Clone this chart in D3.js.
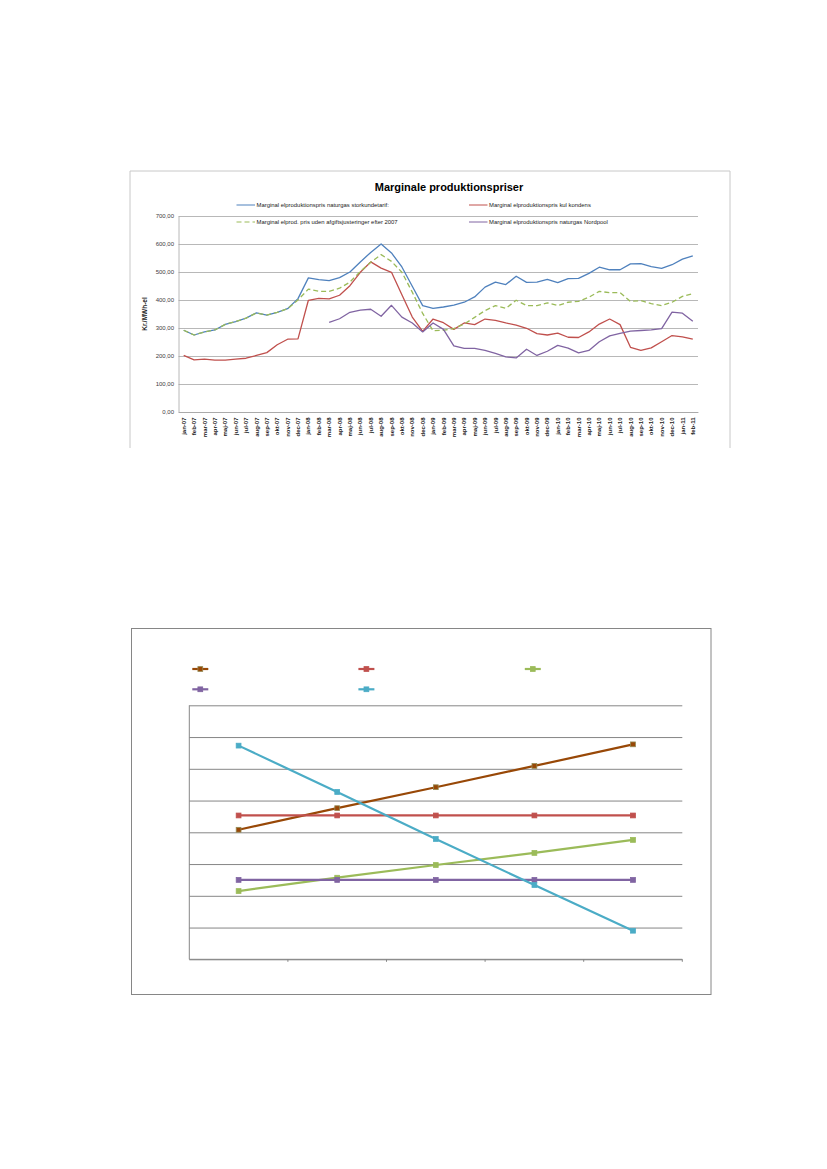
<!DOCTYPE html>
<html>
<head>
<meta charset="utf-8">
<script src="https://cdnjs.cloudflare.com/ajax/libs/d3/7.8.5/d3.min.js"></script>
<style>
  html, body { margin: 0; padding: 0; background: #fff; }
  svg { display: block; }
  text { font-family: "Liberation Sans", Arial, sans-serif; }
</style>
</head>
<body>
<div id="page"></div>
<script>
// ---- chart 1: marginale produktionspriser ----
const months = [
  "jan-07","feb-07","mar-07","apr-07","maj-07","jun-07","jul-07","aug-07","sep-07","okt-07","nov-07","dec-07",
  "jan-08","feb-08","mar-08","apr-08","maj-08","jun-08","jul-08","aug-08","sep-08","okt-08","nov-08","dec-08",
  "jan-09","feb-09","mar-09","apr-09","maj-09","jun-09","jul-09","aug-09","sep-09","okt-09","nov-09","dec-09",
  "jan-10","feb-10","mar-10","apr-10","maj-10","jun-10","jul-10","aug-10","sep-10","okt-10","nov-10","dec-10",
  "jan-11","feb-11"
];

const storkunde = [
  292, 275, 286, 293, 313, 323, 335, 354, 346, 356, 369, 405,
  479, 473, 469, 480, 500, 536, 570, 600, 568, 518, 449, 380,
  370, 375, 382, 392, 411, 446, 464, 455, 485, 463, 464, 474,
  462, 476, 477, 495, 517, 508, 508, 529, 530, 519, 513, 526,
  546, 558
];

const kulKondens = [
  202, 186, 189, 185, 185, 189, 192, 202, 212, 240, 260, 261,
  399, 406, 404, 417, 451, 499, 536, 514, 499, 419, 339, 288,
  332, 319, 295, 318, 312, 332, 327, 318, 310, 299, 280, 275,
  282, 267, 266, 286, 314, 332, 312, 231, 220, 229, 251, 273,
  268, 260
];

const udenAfgift = [
  292, 275, 286, 293, 313, 323, 335, 354, 346, 356, 369, 400,
  439, 431, 431, 442, 464, 502, 535, 562, 538, 499, 428, 352,
  290, 292, 298, 314, 338, 362, 380, 370, 399, 380, 380, 390,
  380, 392, 395, 410, 431, 426, 426, 395, 398, 387, 380, 392,
  413, 423
];

const nordpool = [
  null, null, null, null, null, null, null, null, null, null, null, null,
  null, null, 320, 333, 356, 364, 367, 342, 381, 339, 318, 286,
  318, 295, 236, 227, 227, 220, 209, 197, 193, 224, 202, 217,
  238, 228, 211, 220, 251, 272, 281, 289, 291, 293, 298, 357,
  353, 324
];

const priceTicks = [0, 100, 200, 300, 400, 500, 600, 700];

const priceSeries = [
  { name: "Marginal elproduktionspris naturgas storkundetarif:", values: storkunde, color: "#4F81BD", dash: null },
  { name: "Marginal elproduktionspris kul kondens", values: kulKondens, color: "#C0504D", dash: null },
  { name: "Marginal elprod. pris uden afgiftsjusteringer efter 2007", values: udenAfgift, color: "#9BBB59", dash: "5,3" },
  { name: "Marginal elproduktionspris naturgas Nordpool", values: nordpool, color: "#8064A2", dash: null }
];

// ---- chart 2: unlabelled line chart ----
const steps = ["1", "2", "3", "4", "5"];
const stepTicks = [0, 1, 2, 3, 4, 5, 6, 7, 8];

const brownVals  = [4.08, 4.76, 5.42, 6.09, 6.77];
const redVals    = [4.53, 4.53, 4.53, 4.53, 4.53];
const greenVals  = [2.15, 2.57, 2.97, 3.35, 3.76];
const purpleVals = [2.50, 2.50, 2.50, 2.50, 2.50];
const cyanVals   = [6.73, 5.27, 3.79, 2.34, 0.90];

const stepSeries = [
  { values: brownVals,  color: "#984807", marker: "#984807", edge: "#948A54" },
  { values: redVals,    color: "#C0504D", marker: "#C0504D", edge: "#C0504D" },
  { values: greenVals,  color: "#9BBB59", marker: "#9BBB59", edge: "#9BBB59" },
  { values: purpleVals, color: "#8064A2", marker: "#8064A2", edge: "#8064A2" },
  { values: cyanVals,   color: "#4BACC6", marker: "#4BACC6", edge: "#4BACC6" }
];

(function () {
  const W = 827, H = 1169;
  const svg = d3.select("#page").append("svg")
    .attr("width", W)
    .attr("height", H)
    .attr("viewBox", `0 0 ${W} ${H}`);

  const daLocale = d3.formatLocale({ decimal: ",", thousands: ".", grouping: [3], currency: ["", " kr"] });
  const fmt = daLocale.format(".2f");

  drawPrices();
  drawSteps();

  function drawPrices() {
    const box = { left: 130, top: 171, right: 730, bottom: 448 };
    const P = { left: 178.5, right: 698, top: 216, bottom: 412 };

    // frame (page cuts it off at the bottom)
    svg.append("path")
      .attr("d", `M${box.left},${box.bottom}V${box.top}H${box.right}V${box.bottom}`)
      .attr("fill", "none")
      .attr("stroke", "#C8C8C8")
      .attr("stroke-width", 1);

    svg.append("text")
      .attr("x", 449)
      .attr("y", 190.5)
      .attr("text-anchor", "middle")
      .attr("font-size", "11px")
      .attr("font-weight", 700)
      .attr("fill", "#000")
      .text("Marginale produktionspriser");

    const x = d3.scaleBand().domain(months).range([P.left, P.right]).padding(0);
    const y = d3.scaleLinear().domain([0, 700]).range([P.bottom, P.top]);

    // gridlines
    svg.append("g")
      .attr("transform", `translate(${P.left},0)`)
      .call(d3.axisLeft(y).tickValues(priceTicks).tickSize(-(P.right - P.left)).tickFormat(""))
      .call(g => g.select(".domain").remove())
      .call(g => g.selectAll("line").attr("stroke", "#A6A6A6").attr("stroke-width", 0.8));

    // y axis
    const yAx = svg.append("g")
      .attr("transform", `translate(${P.left},0)`)
      .call(d3.axisLeft(y).tickValues(priceTicks).tickSize(0).tickPadding(4.5).tickFormat(fmt));
    yAx.select(".domain").attr("stroke", "#A6A6A6").attr("stroke-width", 0.8);
    yAx.selectAll("text")
      .attr("font-size", "6px")
      .attr("fill", "#404040")
      .attr("font-family", "Liberation Sans, Arial, sans-serif");

    svg.append("text")
      .attr("transform", `translate(147,314) rotate(-90)`)
      .attr("text-anchor", "middle")
      .attr("font-size", "6.5px")
      .attr("font-weight", 700)
      .attr("fill", "#222")
      .text("Kr./MWh-el");

    // x axis
    const xAx = svg.append("g")
      .attr("transform", `translate(0,${P.bottom})`)
      .call(d3.axisBottom(x).tickSize(0).tickSizeOuter(0));
    xAx.select(".domain").attr("stroke", "#A6A6A6").attr("stroke-width", 0.8);
    xAx.selectAll("text")
      .attr("transform", "rotate(-90)")
      .attr("text-anchor", "end")
      .attr("x", -5.5)
      .attr("y", 0)
      .attr("dy", "0.35em")
      .attr("font-size", "6px")
      .attr("font-weight", 700)
      .attr("fill", "#222")
      .attr("font-family", "Liberation Sans, Arial, sans-serif");

    const line = d3.line()
      .defined(d => d != null)
      .x((d, i) => x(months[i]) + x.bandwidth() / 2)
      .y(d => y(d));

    priceSeries.forEach(s => {
      svg.append("path")
        .datum(s.values)
        .attr("fill", "none")
        .attr("stroke", s.color)
        .attr("stroke-width", 1.3)
        .attr("stroke-dasharray", s.dash)
        .attr("stroke-linejoin", "round")
        .attr("d", line);
    });

    // legend: two columns, two rows
    const cols = [236.5, 469];
    const rows = [205, 222];
    priceSeries.forEach((s, i) => {
      const lx = cols[i % 2], ly = rows[Math.floor(i / 2)];
      const g = svg.append("g").attr("transform", `translate(${lx},${ly})`);
      g.append("line")
        .attr("x1", 0).attr("x2", 18.5)
        .attr("stroke", s.color)
        .attr("stroke-width", 1)
        .attr("stroke-dasharray", s.dash ? "5,3" : null);
      g.append("text")
        .attr("x", 20)
        .attr("dy", "0.35em")
        .attr("font-size", "5.9px")
        .attr("fill", "#222")
        .text(s.name);
    });
  }

  function drawSteps() {
    const box = { left: 131.5, top: 628.5, right: 711, bottom: 994.5 };
    const P = { left: 189.3, right: 682.3, top: 705.3, bottom: 959.3 };

    svg.append("rect")
      .attr("x", box.left).attr("y", box.top)
      .attr("width", box.right - box.left)
      .attr("height", box.bottom - box.top)
      .attr("fill", "#fff")
      .attr("stroke", "#868686")
      .attr("stroke-width", 1);

    const x = d3.scaleBand().domain(steps).range([P.left, P.right]).padding(0);
    const y = d3.scaleLinear().domain([0, 8]).range([P.bottom, P.top]);

    svg.append("g")
      .attr("transform", `translate(${P.left},0)`)
      .call(d3.axisLeft(y).tickValues(stepTicks).tickSize(-(P.right - P.left)).tickFormat(""))
      .call(g => g.selectAll("line").attr("stroke", "#868686").attr("stroke-width", 1))
      .call(g => g.select(".domain").attr("stroke", "#868686").attr("d", `M0,${P.top}V${P.bottom}`));

    // x axis with ticks at the category edges
    const edges = steps.map(s => x(s)).concat([P.right]);
    const xAx = svg.append("g").attr("transform", `translate(0,${P.bottom})`);
    xAx.append("line")
      .attr("x1", P.left).attr("x2", P.right)
      .attr("stroke", "#868686");
    xAx.selectAll("line.tick")
      .data(edges.slice(1))
      .join("line")
      .attr("class", "tick")
      .attr("x1", d => d).attr("x2", d => d)
      .attr("y1", 0).attr("y2", 2.5)
      .attr("stroke", "#868686");

    const cx = (d, i) => x(steps[i]) + x.bandwidth() / 2;
    const line = d3.line().x(cx).y(d => y(d));

    stepSeries.forEach(s => {
      svg.append("path")
        .datum(s.values)
        .attr("fill", "none")
        .attr("stroke", s.color)
        .attr("stroke-width", 2.2)
        .attr("d", line);
      svg.append("g").selectAll("rect")
        .data(s.values)
        .join("rect")
        .attr("x", (d, i) => cx(d, i) - 2.4)
        .attr("y", d => y(d) - 2.4)
        .attr("width", 4.8).attr("height", 4.8)
        .attr("fill", s.marker)
        .attr("stroke", s.edge)
        .attr("stroke-width", 0.8);
    });

    // legend symbols (no labels in the source)
    const cols = [200.3, 366.4, 532.8];
    const rows = [669, 689.3];
    stepSeries.forEach((s, i) => {
      const lx = cols[i % 3], ly = rows[Math.floor(i / 3)];
      const g = svg.append("g").attr("transform", `translate(${lx},${ly})`);
      g.append("line")
        .attr("x1", -8).attr("x2", 8)
        .attr("stroke", s.color)
        .attr("stroke-width", 2.2);
      g.append("rect")
        .attr("x", -2.4).attr("y", -2.4)
        .attr("width", 4.8).attr("height", 4.8)
        .attr("fill", s.marker)
        .attr("stroke", s.edge)
        .attr("stroke-width", 0.8);
    });
  }
})();
</script>
</body>
</html>
